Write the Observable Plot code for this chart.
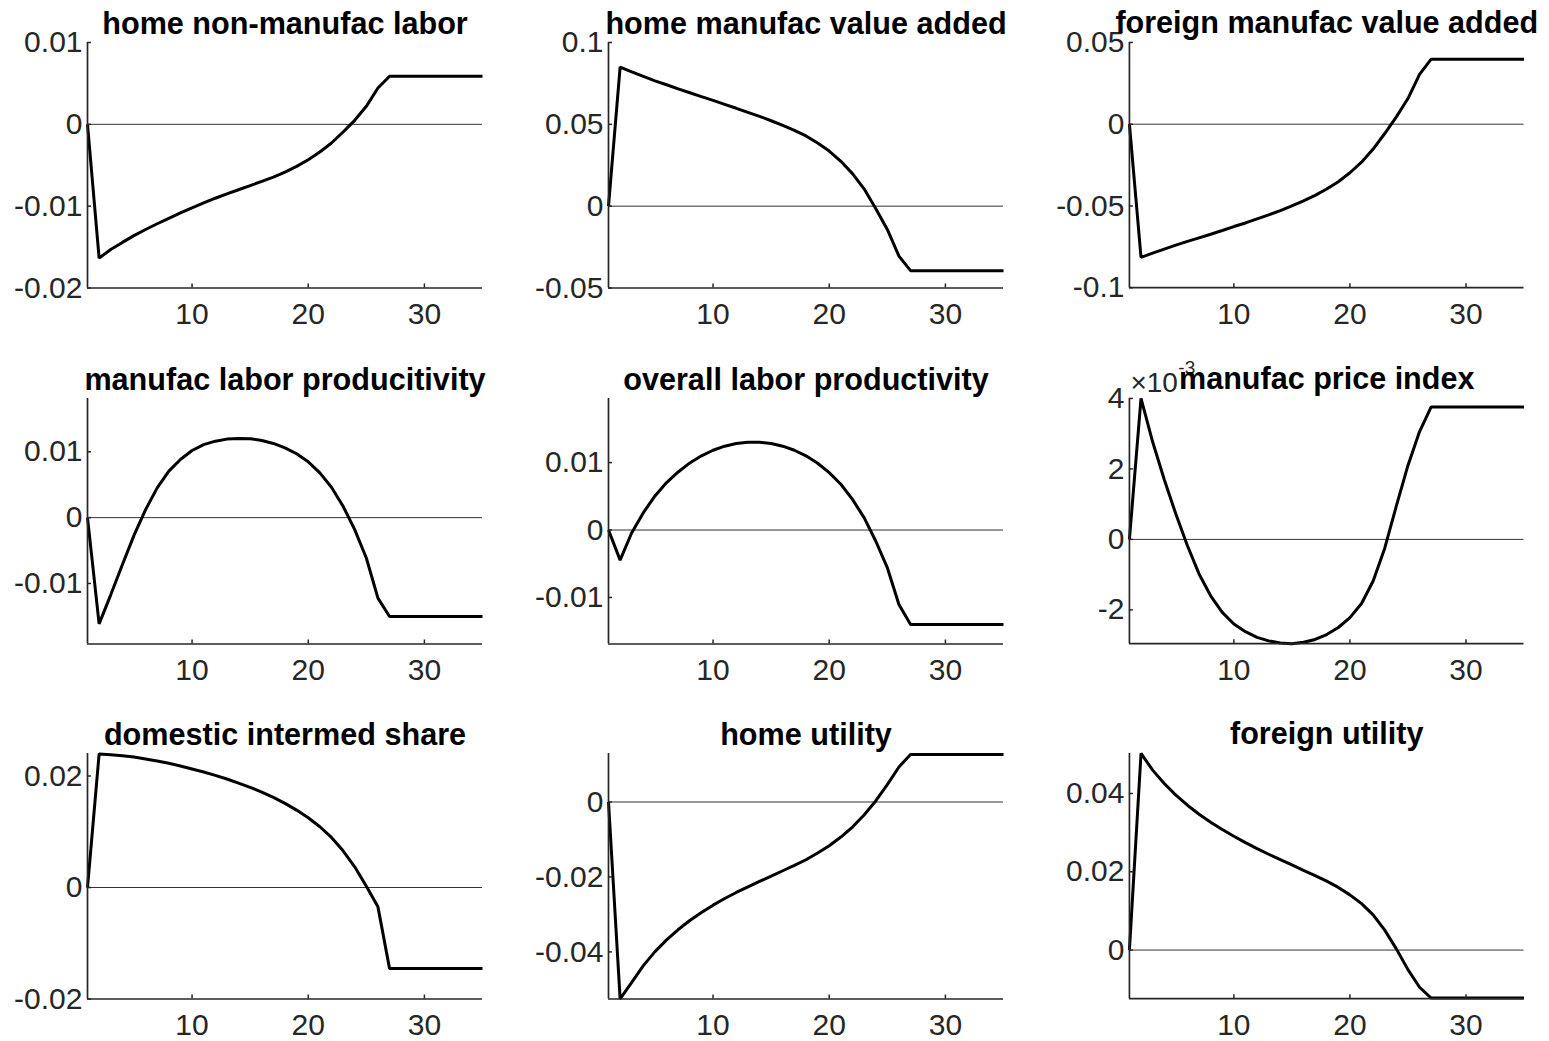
<!DOCTYPE html>
<html><head><meta charset="utf-8">
<script src="https://cdn.jsdelivr.net/npm/d3@7"></script>
<script src="https://cdn.jsdelivr.net/npm/@observablehq/plot@0.6"></script>
<style>
html,body{margin:0;padding:0;background:#fff;}
#fig{position:relative;width:1549px;height:1041px;overflow:hidden;background:#fff;font-family:"Liberation Sans",Arial,sans-serif;}
.panel{position:absolute;}
</style></head><body><div id="fig"></div>
<script>
// ---------- data ----------
const periods = [1,2,3,4,5,6,7,8,9,10,11,12,13,14,15,16,17,18,19,20,21,22,23,24,25,26,27,28,29,30,31,32,33,34,35];
const xTicks = [10, 20, 30];
const xTickLabels = ["10", "20", "30"];

const titles = [
  "home non-manufac labor", "home manufac value added", "foreign manufac value added",
  "manufac labor producitivity", "overall labor productivity", "manufac price index",
  "domestic intermed share", "home utility", "foreign utility"
];

const homeNonManufacLabor = [0,-0.01635,-0.01529,-0.01443,-0.01360,-0.01285,-0.01215,-0.01148,-0.01082,-0.01020,-0.00960,-0.00903,-0.00850,-0.00799,-0.00749,-0.00697,-0.00644,-0.00583,-0.00514,-0.00432,-0.00338,-0.00228,-0.00094,0.00049,0.0022,0.00444,0.00587,0.00587,0.00587,0.00587,0.00587,0.00587,0.00587,0.00587,0.00587];
const homeManufacValueAdded = [0,0.085,0.0821,0.0793,0.0766,0.0742,0.0717,0.0693,0.0669,0.0646,0.0622,0.0598,0.0573,0.0549,0.0522,0.0494,0.0463,0.0429,0.0386,0.0337,0.0274,0.0199,0.0106,-0.0014,-0.0142,-0.0305,-0.0394,-0.0394,-0.0394,-0.0394,-0.0394,-0.0394,-0.0394,-0.0394,-0.0394];
const foreignManufacValueAdded = [0,-0.0815,-0.0789,-0.0764,-0.0740,-0.0717,-0.0695,-0.0673,-0.0650,-0.0626,-0.0604,-0.0579,-0.0555,-0.0528,-0.0500,-0.0469,-0.0435,-0.0396,-0.0352,-0.0297,-0.0232,-0.0152,-0.0057,0.0045,0.0157,0.0305,0.0398,0.0398,0.0398,0.0398,0.0398,0.0398,0.0398,0.0398,0.0398];
const manufacLaborProductivity = [0,-0.01614,-0.01173,-0.00716,-0.00269,0.00122,0.00452,0.00706,0.00883,0.0102,0.0111,0.01162,0.01193,0.01203,0.01198,0.01173,0.01127,0.01061,0.0097,0.00848,0.0068,0.00462,0.00173,-0.00183,-0.00614,-0.01223,-0.01503,-0.01503,-0.01503,-0.01503,-0.01503,-0.01503,-0.01503,-0.01503,-0.01503];
const overallLaborProductivity = [0,-0.00446,-0.0004,0.00257,0.00505,0.00703,0.00861,0.00995,0.0110,0.01183,0.01243,0.01282,0.01302,0.01302,0.01282,0.01243,0.01183,0.0110,0.0099,0.00851,0.00678,0.00455,0.00183,-0.00163,-0.00559,-0.01104,-0.01401,-0.01401,-0.01401,-0.01401,-0.01401,-0.01401,-0.01401,-0.01401,-0.01401];
const manufacPriceIndex = [0,0.0040,0.00277,0.00170,0.00072,-0.00018,-0.00098,-0.00160,-0.00207,-0.00240,-0.00262,-0.00278,-0.00288,-0.00294,-0.00296,-0.00292,-0.00284,-0.00270,-0.00250,-0.00222,-0.00182,-0.00118,-0.00025,0.00095,0.00210,0.00306,0.00376,0.00376,0.00376,0.00376,0.00376,0.00376,0.00376,0.00376,0.00376];
const domesticIntermedShare = [0,0.02395,0.02383,0.02365,0.02341,0.02305,0.02269,0.02228,0.0218,0.02126,0.02072,0.02012,0.01946,0.01874,0.01796,0.01713,0.01617,0.01509,0.01389,0.01251,0.0109,0.00898,0.00659,0.00371,0.00024,-0.00347,-0.01455,-0.01455,-0.01455,-0.01455,-0.01455,-0.01455,-0.01455,-0.01455,-0.01455];
const homeUtility = [0,-0.05256,-0.04811,-0.04366,-0.03992,-0.0368,-0.03403,-0.03163,-0.02949,-0.02753,-0.02575,-0.02414,-0.02263,-0.0212,-0.01978,-0.01835,-0.01693,-0.01541,-0.01363,-0.01167,-0.00935,-0.00668,-0.00348,0.00027,0.00463,0.00935,0.01265,0.01265,0.01265,0.01265,0.01265,0.01265,0.01265,0.01265,0.01265];
const foreignUtility = [0,0.05024,0.04597,0.04256,0.03957,0.03701,0.03471,0.03266,0.03079,0.02908,0.02746,0.02593,0.02448,0.02311,0.02175,0.02038,0.01902,0.01760,0.01600,0.01410,0.01185,0.00900,0.00510,0.00030,-0.00500,-0.00950,-0.01228,-0.01228,-0.01228,-0.01228,-0.01228,-0.01228,-0.01228,-0.01228,-0.01228];

const seriesList = [homeNonManufacLabor, homeManufacValueAdded, foreignManufacValueAdded,
  manufacLaborProductivity, overallLaborProductivity, manufacPriceIndex,
  domesticIntermedShare, homeUtility, foreignUtility];

const yDomains = [[-0.02,0.01],[-0.05,0.1],[-0.1,0.05],[-0.0192,0.0181],[-0.0169,0.0195],[-0.00296,0.0040],[-0.02,0.02404],[-0.05257,0.01294],[-0.01243,0.05023]];
const yTicks = [[-0.02,-0.01,0,0.01],[-0.05,0,0.05,0.1],[-0.1,-0.05,0,0.05],[-0.01,0,0.01],[-0.01,0,0.01],[-0.002,0,0.002,0.004],[-0.02,0,0.02],[-0.04,-0.02,0],[0,0.02,0.04]];
const yTickLabels = [["-0.02","-0.01","0","0.01"],["-0.05","0","0.05","0.1"],["-0.1","-0.05","0","0.05"],["-0.01","0","0.01"],["-0.01","0","0.01"],["-2","0","2","4"],["-0.02","0","0.02"],["-0.04","-0.02","0"],["0","0.02","0.04"]];
const exponentPanel = 5;
const exponentLabel = ["×10", "-3"];

// ---------- layout ----------
const colLeft = [86.5, 607.5, 1128.5];
const rowTop = [42, 397.5, 753.2];
const plotW = 395, plotH = 245.5;
const mL = 90, mR = 26, mT = 46, mB = 46;
const axisColor = "#262626";
const tickFont = 30, titleFont = 30.6;
const FONT = '"Liberation Sans", Arial, sans-serif';

const fig = document.getElementById("fig");

seriesList.forEach((series, k) => {
  const r = Math.floor(k / 3), c = k % 3;
  const rows = periods.map((t, i) => ({t, v: series[i]}));
  const yRows = yTicks[k].map((v, i) => ({v, label: yTickLabels[k][i]}));
  const xRows = xTicks.map((v, i) => ({v, label: xTickLabels[i]}));
  const dom = yDomains[k];
  const marks = [
    Plot.ruleY([0], {stroke: "#333", strokeWidth: 1}),
    Plot.line(rows, {x: "t", y: "v", stroke: "#000", strokeWidth: 3, strokeLinejoin: "miter", strokeLinecap: "butt"}),
    Plot.ruleX([periods[0]], {stroke: axisColor, strokeWidth: 1.7}),
    Plot.ruleY([dom[0]], {stroke: axisColor, strokeWidth: 1.7}),
    Plot.tickY(yTicks[k], {y: d => d, insetRight: plotW - 4, stroke: axisColor, strokeWidth: 1.5}),
    Plot.tickX(xTicks, {x: d => d, insetTop: plotH - 4, stroke: axisColor, strokeWidth: 1.5}),
    Plot.text(yRows, {y: "v", text: "label", frameAnchor: "left", textAnchor: "end", lineAnchor: "middle", dx: -5, fontSize: tickFont, fill: axisColor}),
    Plot.text(xRows, {x: "v", text: "label", frameAnchor: "bottom", textAnchor: "middle", lineAnchor: "top", dy: 15, fontSize: tickFont, fill: axisColor})
  ];
  if (k === exponentPanel) {
    marks.push(Plot.text([exponentLabel[0]], {text: d => d, frameAnchor: "top-left", textAnchor: "start", lineAnchor: "bottom", dx: 1, dy: -6, fontSize: 28, fill: axisColor}));
    marks.push(Plot.text([exponentLabel[1]], {text: d => d, frameAnchor: "top-left", textAnchor: "start", lineAnchor: "bottom", dx: 49, dy: -24, fontSize: 19, fill: axisColor}));
  }
  marks.push(Plot.text([titles[k]], {text: d => d, frameAnchor: "top", textAnchor: "middle", lineAnchor: "bottom", dy: -9, fontSize: titleFont, fontWeight: "bold", fill: "#000"}));

  const svg = Plot.plot({
    width: mL + plotW + mR,
    height: mT + plotH + mB,
    marginLeft: mL, marginRight: mR, marginTop: mT, marginBottom: mB,
    x: {domain: [periods[0], periods[periods.length - 1]], axis: null},
    y: {domain: dom, axis: null},
    style: {background: "transparent", overflow: "visible", fontFamily: FONT},
    marks
  });
  const div = document.createElement("div");
  div.className = "panel";
  div.style.left = (colLeft[c] - mL) + "px";
  div.style.top = (rowTop[r] - mT) + "px";
  div.appendChild(svg);
  fig.appendChild(div);
});
</script>
</body></html>
